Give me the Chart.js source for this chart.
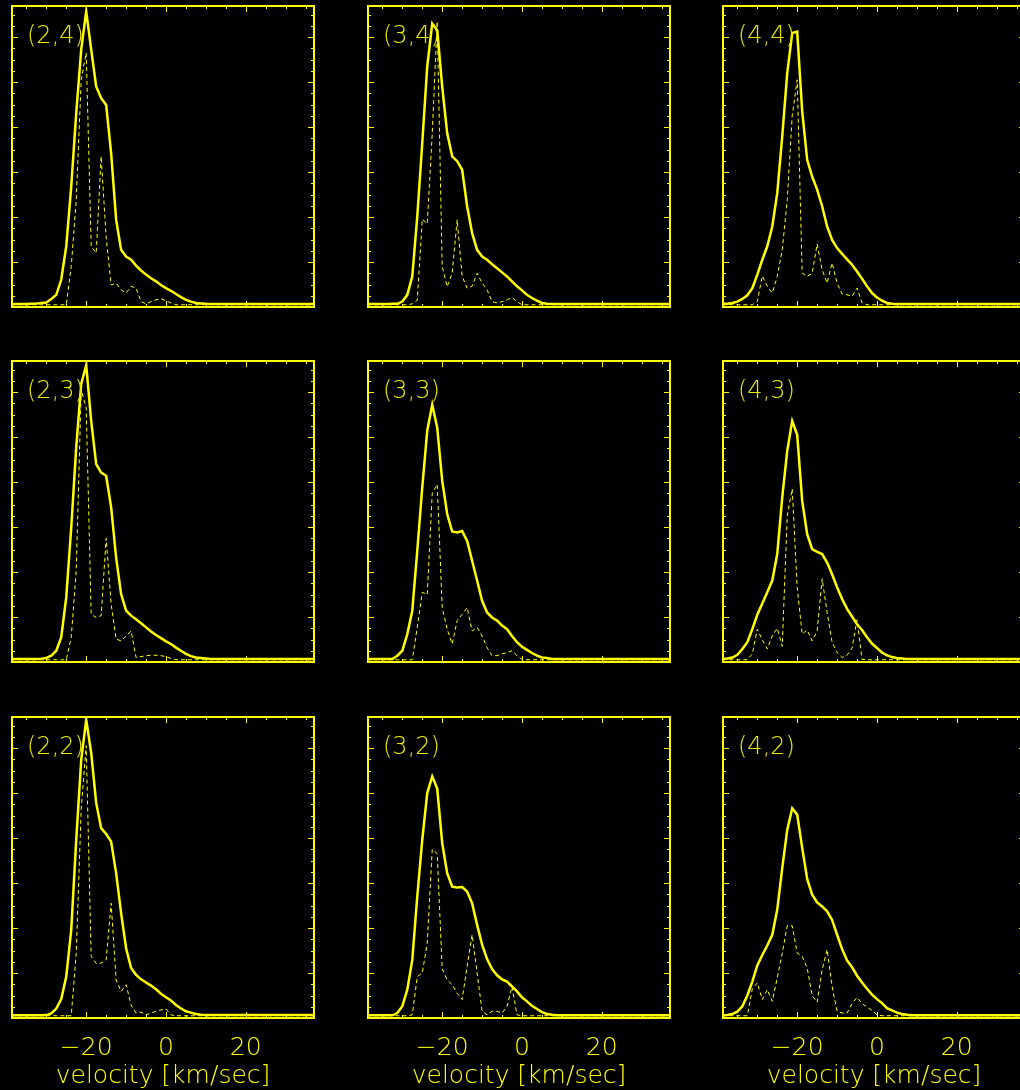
<!DOCTYPE html>
<html>
<head>
<meta charset="utf-8">
<title>velocity profiles</title>
<script src="https://cdn.jsdelivr.net/npm/chart.js@4.4.1/dist/chart.umd.min.js"></script>
<style>
  html, body { margin: 0; padding: 0; background: #000; overflow: hidden; }
  body { width: 1020px; height: 1090px; position: relative; }
  canvas { position: absolute; }
</style>
</head>
<body>
<script>
// velocity channels (km/sec)
const velocity = [-38.75, -37.5, -36.25, -35, -33.75, -32.5, -31.25, -30, -28.75, -27.5,
  -26.25, -25, -23.75, -22.5, -21.25, -20, -18.75, -17.5, -16.25, -15,
  -13.75, -12.5, -11.25, -10, -8.75, -7.5, -6.25, -5, -3.75, -2.5,
  -1.25, 0, 1.25, 2.5, 3.75, 5, 6.25, 7.5, 8.75, 10,
  11.25, 12.5, 13.75, 37.5];

// row (.,4)
const solid24 = [0.015, 0.015, 0.015, 0.015, 0.02, 0.025, 0.04, 0.05, 0.13, 0.22,
  0.56, 1.3, 2.63, 4.26, 5.67, 6.52, 5.67, 4.85, 4.59, 4.44,
  3.37, 1.89, 1.22, 1.07, 1.0, 0.87, 0.76, 0.67, 0.59, 0.52,
  0.44, 0.37, 0.31, 0.24, 0.17, 0.11, 0.07, 0.04, 0.03, 0.02,
  0.015, 0.015, 0.015, 0.015];
const dotted24 = [0, 0, 0, 0, 0, 0, 0, 0, 0, 0,
  0, 0, 0.85, 2.33, 5.0, 5.6, 1.3, 1.15, 3.3, 1.5,
  0.44, 0.48, 0.33, 0.26, 0.41, 0.37, 0.07, 0.02, 0.07, 0.11,
  0.13, 0.09, 0.04, 0, 0, 0, 0, 0, 0, 0,
  0, 0, 0, 0];
const solid34 = [0.015, 0.015, 0.015, 0.015, 0.015, 0.02, 0.02, 0.07, 0.22, 0.63,
  1.96, 3.59, 5.3, 6.25, 6.1, 4.85, 3.81, 3.3, 3.19, 3.0,
  2.19, 1.59, 1.22, 1.07, 1.0, 0.9, 0.81, 0.72, 0.63, 0.52,
  0.41, 0.32, 0.22, 0.15, 0.09, 0.04, 0.02, 0.015, 0.015, 0.015,
  0.015, 0.015, 0.015, 0.015];
const dotted34 = [0, 0, 0, 0, 0, 0, 0, 0, 0, 0.02,
  0.1, 1.9, 1.8, 3.8, 6.3, 0.85, 0.4, 0.7, 1.89, 0.63,
  0.37, 0.41, 0.7, 0.48, 0.33, 0.07, 0.04, 0.07, 0.11, 0.16,
  0.07, 0, 0, 0, 0, 0, 0, 0, 0, 0,
  0, 0, 0, 0];
const solid44 = [0.02, 0.02, 0.04, 0.07, 0.13, 0.21, 0.37, 0.67, 1.0, 1.3,
  1.74, 2.48, 3.74, 5.15, 6.04, 6.07, 4.3, 3.22, 2.85, 2.56,
  2.19, 1.74, 1.44, 1.26, 1.13, 1.01, 0.89, 0.74, 0.58, 0.41,
  0.26, 0.16, 0.09, 0.04, 0.02, 0.015, 0.015, 0.015, 0.015, 0.015,
  0.015, 0.015, 0.015, 0.015];
const dotted44 = [0, 0, 0, 0, 0, 0, 0, 0.07, 0.64, 0.41,
  0.26, 0.63, 1.22, 2.33, 4.2, 5.0, 0.7, 0.63, 0.7, 1.35,
  0.78, 0.48, 0.93, 0.48, 0.24, 0.22, 0.19, 0.37, 0.04, 0,
  0, 0, 0, 0, 0, 0, 0, 0, 0, 0,
  0, 0, 0, 0];

// row (.,3)
const solid23 = [0.015, 0.015, 0.015, 0.015, 0.015, 0.015, 0.02, 0.04, 0.09, 0.2,
  0.5, 1.39, 2.94, 4.72, 6.13, 6.55, 5.31, 4.35, 4.16, 4.09,
  3.39, 2.27, 1.46, 1.09, 0.98, 0.9, 0.81, 0.72, 0.63, 0.55,
  0.48, 0.41, 0.35, 0.27, 0.2, 0.13, 0.08, 0.05, 0.04, 0.03,
  0.015, 0.015, 0.015, 0.015];
const dotted23 = [0, 0, 0, 0, 0, 0, 0, 0, 0, 0,
  0, 0, 0.5, 1.98, 6.0, 5.6, 1.01, 0.94, 0.98, 2.7,
  1.24, 0.46, 0.42, 0.53, 0.64, 0.05, 0.07, 0.09, 0.1, 0.1,
  0.09, 0.07, 0.03, 0, 0, 0, 0, 0, 0, 0,
  0, 0, 0, 0];
const solid33 = [0.015, 0.015, 0.015, 0.015, 0.015, 0.015, 0.09, 0.2, 0.57, 1.09,
  2.42, 3.83, 5.09, 5.67, 5.16, 3.98, 3.24, 2.85, 2.83, 2.86,
  2.64, 2.2, 1.76, 1.31, 1.05, 0.94, 0.87, 0.76, 0.68, 0.53,
  0.39, 0.29, 0.22, 0.15, 0.09, 0.05, 0.04, 0.015, 0.015, 0.015,
  0.015, 0.015, 0.015, 0.015];
const dotted33 = [0, 0, 0, 0, 0, 0, 0, 0, 0, 0,
  0.72, 1.5, 1.45, 3.7, 3.9, 1.16, 0.68, 0.35, 0.87, 1.01,
  1.16, 0.64, 0.72, 0.53, 0.27, 0.09, 0.09, 0.13, 0.16, 0.2,
  0.09, 0.01, 0, 0, 0, 0, 0, 0, 0, 0,
  0, 0, 0, 0];
const solid43 = [0.015, 0.03, 0.05, 0.11, 0.24, 0.39, 0.68, 1.0, 1.25, 1.5,
  1.76, 2.35, 3.61, 4.64, 5.31, 5.0, 3.53, 2.79, 2.46, 2.4,
  2.35, 2.16, 1.9, 1.61, 1.35, 1.13, 0.96, 0.79, 0.66, 0.5,
  0.36, 0.26, 0.16, 0.1, 0.06, 0.04, 0.03, 0.015, 0.015, 0.015,
  0.015, 0.015, 0.015, 0.015];
const dotted43 = [0, 0, 0, 0, 0, 0, 0.13, 0.68, 0.44, 0.24,
  0.53, 0.7, 0.3, 3.2, 3.8, 1.6, 0.57, 0.66, 0.42, 0.64,
  1.8, 1.05, 0.39, 0.16, 0.05, 0.1, 0.26, 0.89, 0.01, 0,
  0, 0, 0, 0, 0, 0, 0, 0, 0, 0,
  0, 0, 0, 0];

// row (.,2)
const solid22 = [0.01, 0.01, 0.01, 0.01, 0.01, 0.01, 0.01, 0.015, 0.05, 0.16,
  0.37, 0.87, 1.91, 3.91, 5.69, 6.58, 5.84, 4.73, 4.17, 4.04,
  3.87, 3.17, 2.28, 1.5, 1.06, 0.91, 0.81, 0.74, 0.67, 0.59,
  0.49, 0.41, 0.34, 0.24, 0.16, 0.1, 0.07, 0.04, 0.02, 0.015,
  0.015, 0.015, 0.015, 0.015];
const dotted22 = [0, 0, 0, 0, 0, 0, 0, 0, 0, 0,
  0, 0, 0, 1.39, 4.6, 6.0, 1.32, 1.16, 1.17, 1.24,
  2.5, 0.8, 0.54, 0.69, 0.24, 0.06, 0.08, 0.02, 0.06, 0.1,
  0.13, 0.15, 0.02, 0, 0, 0, 0, 0, 0, 0,
  0, 0, 0, 0];
const solid32 = [0.01, 0.01, 0.01, 0.01, 0.01, 0.01, 0.06, 0.21, 0.58, 1.24,
  2.65, 3.91, 4.95, 5.32, 5.05, 3.84, 3.17, 2.87, 2.85, 2.86,
  2.76, 2.5, 2.02, 1.58, 1.26, 1.04, 0.9, 0.81, 0.76, 0.65,
  0.54, 0.41, 0.32, 0.22, 0.15, 0.08, 0.04, 0.02, 0.01, 0.01,
  0.01, 0.01, 0.01, 0.01];
const dotted32 = [0, 0, 0, 0, 0, 0, 0, 0, 0, 0.02,
  0.87, 0.95, 1.61, 3.7, 3.6, 1.04, 0.8, 0.69, 0.5, 0.36,
  1.1, 1.8, 0.95, 0.1, 0.02, 0.1, 0.1, 0.06, 0.21, 0.65,
  0.02, 0, 0, 0, 0, 0, 0, 0, 0, 0,
  0, 0, 0, 0];
const solid42 = [0.01, 0.015, 0.04, 0.09, 0.21, 0.45, 0.76, 1.12, 1.35, 1.56,
  1.8, 2.36, 3.28, 4.13, 4.61, 4.47, 3.73, 3.04, 2.69, 2.52,
  2.43, 2.32, 2.13, 1.8, 1.48, 1.23, 1.08, 0.89, 0.74, 0.6,
  0.47, 0.37, 0.28, 0.17, 0.12, 0.07, 0.04, 0.02, 0.01, 0.01,
  0.01, 0.01, 0.01, 0.01];
const dotted42 = [0, 0, 0, 0, 0, 0, 0.6, 0.73, 0.36, 0.58,
  0.32, 0.84, 1.39, 2.0, 2.0, 1.39, 1.32, 1.06, 0.45, 0.3,
  1.02, 1.47, 0.65, 0.1, 0.06, 0.06, 0.27, 0.41, 0.27, 0.19,
  0.12, 0.02, 0, 0, 0, 0, 0, 0, 0, 0,
  0, 0, 0, 0];

const panelLabels = [
  ["(2,4)", "(3,4)", "(4,4)"],
  ["(2,3)", "(3,3)", "(4,3)"],
  ["(2,2)", "(3,2)", "(4,2)"]
];
const solidSeries = [
  [solid24, solid34, solid44],
  [solid23, solid33, solid43],
  [solid22, solid32, solid42]
];
const dottedSeries = [
  [dotted24, dotted34, dotted44],
  [dotted23, dotted33, dotted43],
  [dotted22, dotted32, dotted42]
];

// axes
const xTickLabels = [-20, 0, 20];
const xMinorTicks = [-35, -30, -25, -20, -15, -10, -5, 0, 5, 10, 15, 20, 25, 30, 35];
const xTitle = "velocity [km/sec]";
const xMin = -38.6, xMax = 37.1;
const yMin = -0.05, yMax = 6.64, yMinorStep = 0.25;

const yellow = "#ffff00";
const fontFamily = '"DejaVu Sans ExtraLight", "DejaVu Sans", sans-serif';

// page layout of the plot boxes
const colLeft = [12, 368, 723];
const rowTop = [6, 361, 717];
const plotW = 302, plotH = 301;
const pad = 10, axisH = 73;

// frame with inward ticks on all four sides, plus the panel label
const framePlugin = {
    id: "frame",
    afterDatasetsDraw(chart, args, opts) {
        const { ctx, chartArea: a, scales } = chart;
        const x = scales.x, y = scales.y;
        ctx.save();
        ctx.strokeStyle = yellow;
        ctx.lineWidth = 2;
        ctx.strokeRect(a.left, a.top, a.right - a.left, a.bottom - a.top);

        ctx.lineWidth = 1;
        ctx.beginPath();
        xMinorTicks.forEach(v => {
            const px = Math.round(x.getPixelForValue(v)) + 0.5;
            const len = xTickLabels.includes(v) ? 6 : 3;
            ctx.moveTo(px, a.top);
            ctx.lineTo(px, a.top + len);
            ctx.moveTo(px, a.bottom);
            ctx.lineTo(px, a.bottom - len);
        });
        for (let k = 0; yMin + k * yMinorStep < yMax; k++) {
            const py = Math.round(y.getPixelForValue(yMin + k * yMinorStep)) + 0.5;
            const len = k % 4 === 0 ? 6 : 3;
            ctx.moveTo(a.left, py);
            ctx.lineTo(a.left + len, py);
            ctx.moveTo(a.right, py);
            ctx.lineTo(a.right - len, py);
        }
        ctx.stroke();

        ctx.fillStyle = "#e8e800";
        ctx.font = "200 24px " + fontFamily;
        ctx.textBaseline = "alphabetic";
        ctx.fillText(opts.label, a.left + 15, a.top + 37);
        ctx.restore();
    }
};

function minusSign(v) {
    return v < 0 ? "\u2212" + Math.abs(v) : String(v);
}

function criarPainel(row, col) {
    const isBottom = row === panelLabels.length - 1;
    const canvas = document.createElement("canvas");
    canvas.width = plotW + 2 * pad;
    canvas.height = isBottom ? pad + plotH + axisH : plotH + 2 * pad;
    canvas.style.left = (colLeft[col] - pad) + "px";
    canvas.style.top = (rowTop[row] - pad) + "px";
    document.body.appendChild(canvas);

    const solid = solidSeries[row][col];
    const dotted = dottedSeries[row][col];

    new Chart(canvas, {
        type: "line",
        data: {
            datasets: [
                {
                    data: velocity.map((v, i) => ({ x: v, y: solid[i] })),
                    borderColor: yellow,
                    borderWidth: 2.5,
                    pointRadius: 0,
                    tension: 0
                },
                {
                    data: velocity.map((v, i) => ({ x: v, y: dotted[i] })),
                    borderColor: yellow,
                    borderWidth: 1,
                    borderDash: [4, 3],
                    pointRadius: 0,
                    tension: 0
                }
            ]
        },
        options: {
            responsive: false,
            animation: false,
            devicePixelRatio: 1,
            layout: {
                padding: { left: pad, right: pad, top: pad, bottom: isBottom ? 0 : pad }
            },
            plugins: {
                legend: { display: false },
                tooltip: { enabled: false },
                frame: { label: panelLabels[row][col] }
            },
            scales: {
                x: {
                    type: "linear",
                    min: xMin,
                    max: xMax,
                    display: isBottom,
                    grid: { display: false, drawTicks: false },
                    border: { display: false },
                    afterBuildTicks: s => { s.ticks = xTickLabels.map(v => ({ value: v })); },
                    afterFit: s => { s.height = isBottom ? axisH : 0; },
                    ticks: {
                        color: yellow,
                        font: { family: fontFamily, size: 25, weight: 200 },
                        padding: 15,
                        maxRotation: 0,
                        autoSkip: false,
                        callback: v => minusSign(v)
                    },
                    title: {
                        display: true,
                        text: xTitle,
                        color: yellow,
                        font: { family: fontFamily, size: 25, weight: 200 },
                        padding: 0
                    }
                },
                y: {
                    type: "linear",
                    min: yMin,
                    max: yMax,
                    display: false
                }
            }
        },
        plugins: [framePlugin]
    });
}

document.addEventListener("DOMContentLoaded", () => {
    for (let r = 0; r < 3; r++) {
        for (let c = 0; c < 3; c++) {
            criarPainel(r, c);
        }
    }
});
</script>
</body>
</html>
